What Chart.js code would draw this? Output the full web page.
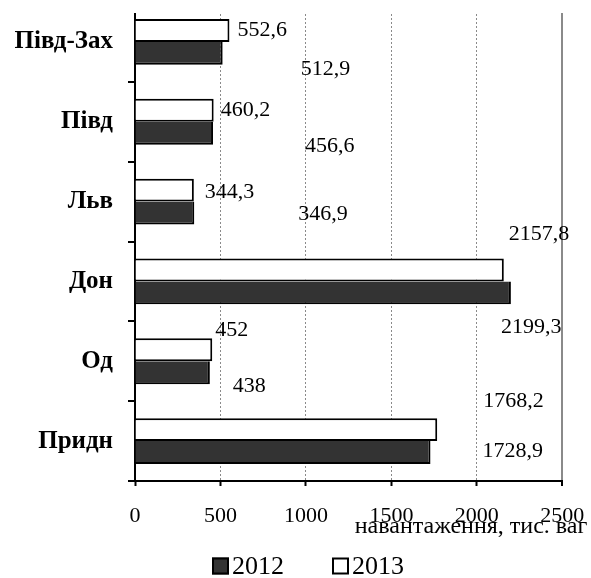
<!DOCTYPE html>
<html>
<head>
<meta charset="utf-8">
<script src="https://cdn.jsdelivr.net/npm/chart.js@4/dist/chart.umd.min.js"></script>
<style>
  html, body { margin: 0; padding: 0; background: #fff; }
  #wrap { width: 591px; height: 578px; }
</style>
</head>
<body>
<div id="wrap"><canvas id="c" width="591" height="578"></canvas></div>
<script>
// Wagon loading by railway, thousand wagons
const regions = ['Півд-Зах', 'Півд', 'Льв', 'Дон', 'Од', 'Придн'];
const years = ['2012', '2013'];
const values2012 = [512.9, 456.6, 346.9, 2199.3, 438, 1728.9];
const values2013 = [552.6, 460.2, 344.3, 2157.8, 452, 1768.2];
const xTicks = [0, 500, 1000, 1500, 2000, 2500];
const axisTitle = 'навантаження, тис. ваг';

// Hand-placed value labels: [dx, dy] in px from the bar end / bar centre
const labelShift2013 = [[8, 0], [7, 0], [11, 2], [5, -36], [3, -20], [46, -28]];
const labelShift2012 = [[78, 16], [92, 13], [104, 1], [-10, 34], [23, 13], [52, -1]];

const SERIF = '"Liberation Serif", "Times New Roman", serif';
const fmt = v => String(v).replace('.', ',');

const decor = {
  id: 'decor',
  // axis and grid lines begin a little below the top of the first band
  beforeDatasetsDraw(chart) {
    const { ctx, chartArea: a } = chart;
    ctx.save();
    ctx.fillStyle = '#fff';
    ctx.fillRect(a.left - 10, 0, a.right - a.left + 16, a.top + 11);
    ctx.restore();
  },
  afterDatasetsDraw(chart) {
    const { ctx } = chart;
    ctx.save();
    ctx.font = '22px ' + SERIF;
    ctx.fillStyle = '#000';
    ctx.textAlign = 'left';
    ctx.textBaseline = 'middle';
    chart.data.datasets.forEach((ds, di) => {
      const meta = chart.getDatasetMeta(di);
      meta.data.forEach((bar, i) => {
        const [dx, dy] = ds.shifts[i];
        ctx.fillText(fmt(ds.data[i]), bar.x + dx, bar.y + dy);
      });
    });
    ctx.restore();
  },
  afterDraw(chart) {
    const { ctx, chartArea: a } = chart;
    ctx.save();
    ctx.fillStyle = '#000';
    // x axis title, running past the right end of the axis
    ctx.font = '24px ' + SERIF;
    ctx.textAlign = 'right';
    ctx.textBaseline = 'alphabetic';
    ctx.fillText(axisTitle, a.right + 25, a.bottom + 52);
    // legend
    const items = [
      { text: years[0], fill: '#333333' },
      { text: years[1], fill: '#ffffff' }
    ];
    ctx.font = '26px ' + SERIF;
    ctx.textAlign = 'left';
    ctx.textBaseline = 'middle';
    let x = a.left + 77;
    const y = a.bottom + 85;
    items.forEach(it => {
      ctx.fillStyle = it.fill;
      ctx.fillRect(x, y - 8.5, 17, 17);
      ctx.strokeStyle = '#000';
      ctx.lineWidth = 2;
      ctx.strokeRect(x + 1, y - 7.5, 15, 15);
      ctx.fillStyle = '#000';
      ctx.fillText(it.text, x + 20, y + 1);
      x += 20 + ctx.measureText(it.text).width + 48;
    });
    ctx.restore();
  }
};

new Chart(document.getElementById('c'), {
  type: 'bar',
  data: {
    labels: regions,
    datasets: [
      { label: years[1], data: values2013, backgroundColor: '#ffffff', borderColor: '#000', borderWidth: 2, shifts: labelShift2013 },
      { label: years[0], data: values2012, backgroundColor: '#333333', borderColor: '#000',
        borderWidth: { top: 0, right: 2, bottom: 2, left: 2 }, shifts: labelShift2012 }
    ]
  },
  options: {
    indexAxis: 'y',
    responsive: false,
    animation: false,
    categoryPercentage: 0.575,
    barPercentage: 1,
    layout: { padding: { top: 2, right: 28.7, left: 0, bottom: 0 } },
    plugins: { legend: { display: false }, tooltip: { enabled: false } },
    scales: {
      x: {
        min: 0,
        max: 2500,
        afterBuildTicks: s => { s.ticks = xTicks.map(v => ({ value: v })); },
        afterFit: s => { s.height = 97; s.paddingLeft = 0; s.paddingRight = 0; },
        ticks: {
          font: { family: SERIF, size: 22 },
          color: '#000',
          padding: 17,
          maxRotation: 0,
          autoSkip: false,
          callback: v => String(v)
        },
        grid: {
          color: c => (c.tick && c.tick.value === 0) ? 'rgba(0,0,0,0)' : '#8a8a8a',
          lineWidth: c => (c.tick && c.tick.value === 2500) ? 2 : 1,
          tickColor: '#000',
          tickLength: 5,
          tickWidth: 2
        },
        border: {
          color: '#000',
          width: 2,
          dash: c => (c.tick && c.tick.value === 2500) ? [] : [2, 2]
        }
      },
      y: {
        afterFit: s => { s.width = 135; s.paddingTop = 0; s.paddingBottom = 0; },
        ticks: {
          font: { family: SERIF, size: 25, weight: 'bold' },
          color: '#000',
          padding: 15
        },
        grid: {
          drawOnChartArea: false,
          tickLength: 7,
          tickColor: '#000',
          tickWidth: 2,
          lineWidth: 2
        },
        border: { color: '#000', width: 2 }
      }
    }
  },
  plugins: [decor]
});
</script>
</body>
</html>
